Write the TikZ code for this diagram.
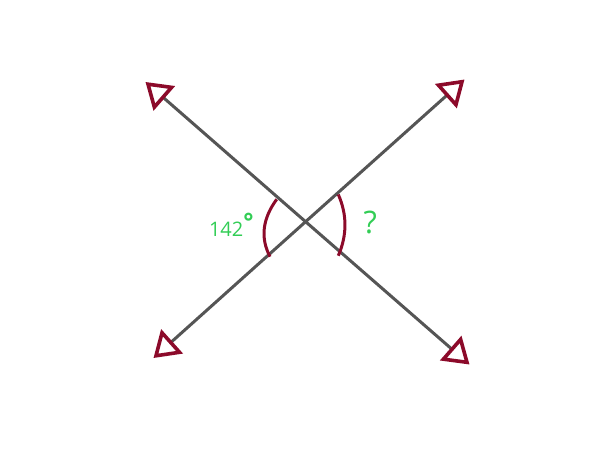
\documentclass[tikz,border=0pt]{standalone}
\usepackage{fontspec}
\setmainfont{Open Sans}
\usetikzlibrary{arrows.meta}
\definecolor{linegray}{RGB}{85,85,85}
\definecolor{darkred}{RGB}{140,10,42}
\definecolor{lblgreen}{RGB}{50,205,85}
\tikzset{
  ray/.style={draw=linegray, line width=3pt, line cap=butt,
    -{Triangle[open, fill=white, length=25pt, width=32pt, line width=3.6pt, color=darkred]}},
  anglearc/.style={draw=darkred, line width=3pt},
  lbl/.style={text=lblgreen, inner sep=0pt, outer sep=0pt}
}
\begin{document}
\begin{tikzpicture}[x=1pt,y=-1pt]
\useasboundingbox (0,0) rectangle (600,450);
\coordinate (O) at (305.6,221.7);
\coordinate (TL) at (145.5,82);
\coordinate (BR) at (469.5,364.5);
\coordinate (BL) at (153.5,358);
\coordinate (TR) at (464.5,79.5);
\draw[ray] (O) -- (TL);
\draw[ray] (O) -- (BR);
\draw[ray] (O) -- (BL);
\draw[ray] (O) -- (TR);
\draw[anglearc] (276.7,199.3) .. controls (262.4,218.8) and (260.2,238) .. (270,256.7);
\draw[anglearc] (338.3,194.5) .. controls (347.2,214.8) and (347.2,235.0) .. (338.3,255.7);
\node[lbl, anchor=base west, font=\fontsize{20}{20}\selectfont] (ang) at (209,236) {142\raisebox{6pt}{\fontsize{24}{24}\selectfont\bfseries °}};
\node[lbl, anchor=base west, font=\fontsize{31}{31}\selectfont] (q) at (363.5,233.3) {?};
\end{tikzpicture}
\end{document}
